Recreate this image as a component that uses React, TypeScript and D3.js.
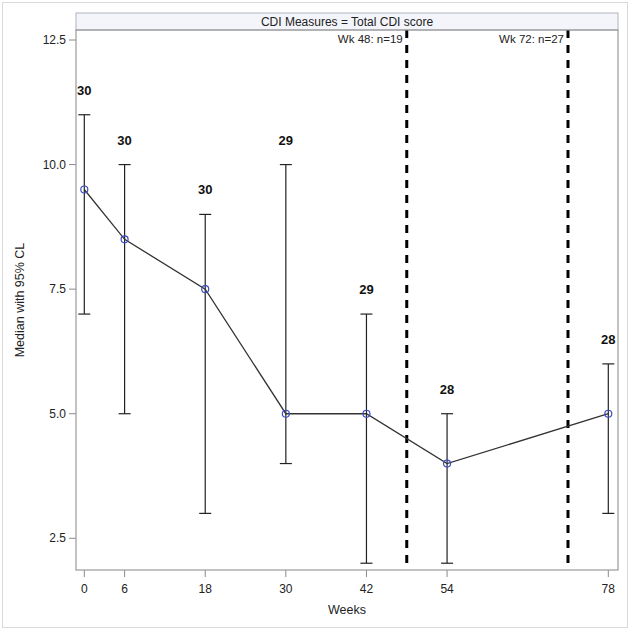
import React from "react";
import * as d3 from "d3";

const weeks = [0, 6, 18, 30, 42, 54, 78];
const medians = [9.5, 8.5, 7.5, 5, 5, 4, 5];
const lowerCL = [7, 5, 3, 4, 2, 2, 3];
const upperCL = [11, 10, 9, 10, 7, 5, 6];
const counts = [30, 30, 30, 29, 29, 28, 28];
const yTicks = [2.5, 5.0, 7.5, 10.0, 12.5];
const refWeeks = [48, 72];
const refLabels = ["Wk 48: n=19", "Wk 72: n=27"];
const headerText = "CDI Measures = Total CDI score";

const W = 631;
const H = 631;
const left = 76;
const right = 618;
const top = 30;
const bottom = 570;

export default function App() {
  const x = d3.scaleLinear().domain([0, 78]).range([84.3, 608.3]);
  const y = d3.scaleLinear().domain([2.5, 12.5]).range([538.3, 40]);
  const line = d3
    .line<number>()
    .x((_, i) => x(weeks[i]))
    .y((d) => y(d));
  const font = "'Liberation Sans', Arial, sans-serif";
  return (
    <svg
      width={W}
      height={H}
      style={{ position: "absolute", left: 0, top: 0 }}
      fontFamily={font}
    >
      <rect x={0} y={0} width={W} height={H} fill="#fff" />
      <rect x={2.5} y={2.5} width={625} height={625} fill="none" stroke="#d9d9d9" strokeWidth={1} />
      {/* header */}
      <rect x={left} y={13} width={right - left} height={top - 13} fill="#f3f5fb" stroke="#b0b4bb" strokeWidth={1} />
      <text x={(left + right) / 2} y={25.5} textAnchor="middle" fontSize={12} fill="#222">
        {headerText}
      </text>
      {/* y axis */}
      {yTicks.map((t) => (
        <g key={t}>
          <line x1={left - 7} x2={left} y1={y(t)} y2={y(t)} stroke="#8a8a8a" />
          <text x={left - 10} y={y(t) + 4} textAnchor="end" fontSize={12} fill="#222">
            {t.toFixed(1)}
          </text>
        </g>
      ))}
      <text
        transform={`translate(24,${(top + bottom) / 2}) rotate(-90)`}
        textAnchor="middle"
        fontSize={12.5}
        fill="#222"
      >
        Median with 95% CL
      </text>
      {/* x axis */}
      {weeks.map((w) => (
        <g key={w}>
          <line x1={x(w)} x2={x(w)} y1={bottom} y2={bottom + 7} stroke="#8a8a8a" />
          <text x={x(w)} y={593} textAnchor="middle" fontSize={12} fill="#222">
            {w}
          </text>
        </g>
      ))}
      <text x={(left + right) / 2} y={614} textAnchor="middle" fontSize={12.5} fill="#222">
        Weeks
      </text>
      {/* reference lines */}
      {refWeeks.map((w, i) => (
        <g key={w}>
          <line
            x1={x(w)}
            x2={x(w)}
            y1={top}
            y2={bottom}
            stroke="#000"
            strokeWidth={3}
            strokeDasharray="8,7"
          />
          <text x={x(w) - 4} y={top + 13} textAnchor="end" fontSize={11.5} fill="#222">
            {refLabels[i]}
          </text>
        </g>
      ))}
      {/* error bars */}
      {weeks.map((w, i) => (
        <g key={w} stroke="#222" strokeWidth={1.2}>
          <line x1={x(w)} x2={x(w)} y1={y(lowerCL[i])} y2={y(upperCL[i])} />
          <line x1={x(w) - 6} x2={x(w) + 6} y1={y(lowerCL[i])} y2={y(lowerCL[i])} />
          <line x1={x(w) - 6} x2={x(w) + 6} y1={y(upperCL[i])} y2={y(upperCL[i])} />
        </g>
      ))}
      <path d={line(medians) || ""} fill="none" stroke="#333" strokeWidth={1.3} />
      {weeks.map((w, i) => (
        <circle key={w} cx={x(w)} cy={y(medians[i])} r={3.5} fill="none" stroke="#3b4cc0" strokeWidth={1.2} />
      ))}
      {weeks.map((w, i) => (
        <text
          key={w}
          x={x(w)}
          y={y(upperCL[i]) - 20}
          textAnchor="middle"
          fontSize={13}
          fontWeight="bold"
          fill="#111"
        >
          {counts[i]}
        </text>
      ))}
      {/* frame */}
      <rect x={left} y={top} width={right - left} height={bottom - top} fill="none" stroke="#9a9a9a" strokeWidth={1.2} />
    </svg>
  );
}
